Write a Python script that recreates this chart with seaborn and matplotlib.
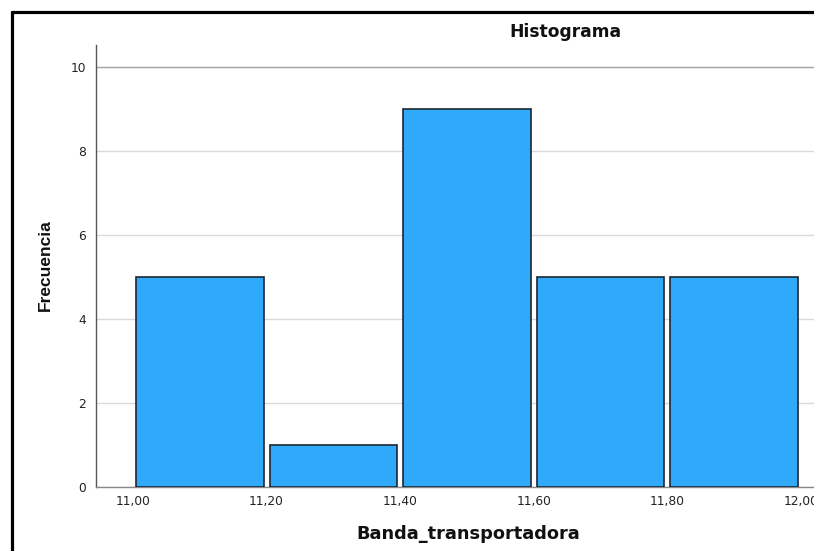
import matplotlib
matplotlib.use("Agg")
import matplotlib.pyplot as plt
from matplotlib.lines import Line2D
import seaborn as sns

# Histogram bins for Banda_transportadora and their frequencies
bin_edges = [11.0, 11.2, 11.4, 11.6, 11.8, 12.0]
bin_mids = [11.1, 11.3, 11.5, 11.7, 11.9]
frecuencias = [5, 1, 9, 5, 5]
x_ticks = [11.0, 11.2, 11.4, 11.6, 11.8, 12.0]
y_ticks = [0, 2, 4, 6, 8, 10]

sns.set_theme(style="white")
plt.rcParams["font.family"] = ["DejaVu Sans"]

W, H = 814, 551
fig = plt.figure(figsize=(W / 100, H / 100), dpi=100)

# Axes box in pixel units (extends past the right edge of the canvas)
left, top, bottom, right = 96, 45, 487, 840
ax = fig.add_axes([left / W, 1 - bottom / H, (right - left) / W, (bottom - top) / H])

sns.histplot(x=bin_mids, weights=frecuencias, bins=bin_edges, shrink=0.955,
             color="#2FAAFB", edgecolor="#1B2633", linewidth=1.2, alpha=1.0,
             ax=ax, zorder=3)

x0_px, x1_px = 133, 801
px_per_unit = (x1_px - x0_px) / 1.0
xmin = 11.0 - (x0_px - left) / px_per_unit
xmax = 11.0 + (right - x0_px) / px_per_unit
ax.set_xlim(xmin, xmax)
ymax = 10 * (bottom - top) / (bottom - 67)
ax.set_ylim(0, ymax)

ax.set_xticks(x_ticks)
ax.set_xticklabels([f"{v:.2f}".replace(".", ",") for v in x_ticks])
ax.set_yticks(y_ticks)
ax.set_yticklabels([str(v) for v in y_ticks])
ax.tick_params(axis="both", length=0, labelsize=8.8, colors="#222222")
ax.tick_params(axis="x", pad=6)
ax.tick_params(axis="y", pad=7)

ax.yaxis.grid(True, color="#d9d9d9", linewidth=1.0, zorder=0)
ax.xaxis.grid(False)
ax.set_axisbelow(True)
# the topmost gridline is drawn a bit darker
ax.axhline(y_ticks[-1], color="#a8a8a8", linewidth=1.0, zorder=1)

for s in ["top", "right"]:
    ax.spines[s].set_visible(False)
ax.spines["left"].set_color("#555555")
ax.spines["bottom"].set_color("#888888")
ax.spines["left"].set_linewidth(1.0)
ax.spines["bottom"].set_linewidth(1.0)

ax.set_xlabel("")
ax.set_ylabel("")

fig.text(565 / W, 1 - 32 / H, "Histograma", ha="center", va="center",
         fontsize=12.3, fontweight="bold", color="#111111")
fig.text(468 / W, 1 - 534 / H, "Banda_transportadora", ha="center", va="center",
         fontsize=12.8, fontweight="bold", color="#111111")
fig.text(45 / W, 1 - 265 / H, "Frecuencia", ha="center", va="center",
         rotation=90, fontsize=12.5, fontweight="bold", color="#111111",
         family=["Liberation Sans", "DejaVu Sans"])

# Frame around the chart (top and left edges)
fig.add_artist(Line2D([12 / W, 12 / W], [0, 1 - 12 / H], transform=fig.transFigure,
                      color="black", linewidth=2.3))
fig.add_artist(Line2D([12 / W, 1], [1 - 12 / H, 1 - 12 / H], transform=fig.transFigure,
                      color="black", linewidth=2.3))

fig.savefig("out.png", dpi=100)
